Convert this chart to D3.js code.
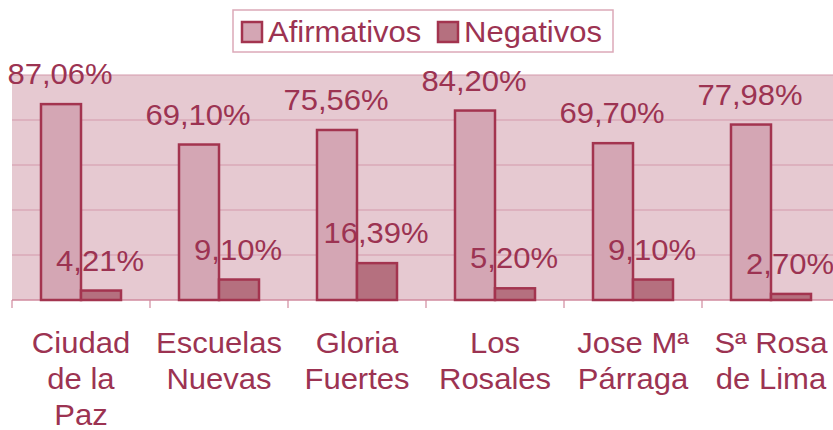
<!DOCTYPE html>
<meta charset="utf-8">
<style>
body { margin: 0; background: #fff; }
text { font-family: "Liberation Sans", Arial, sans-serif; fill: #9c3352; }
</style>
<body>
<script src="https://cdn.jsdelivr.net/npm/d3@7"></script>
<script>
var centros = ["Ciudad de la Paz", "Escuelas Nuevas", "Gloria Fuertes", "Los Rosales", "Jose Mª Párraga", "Sª Rosa de Lima"];
var etiquetas = [["Ciudad", "de la", "Paz"], ["Escuelas", "Nuevas"], ["Gloria", "Fuertes"], ["Los", "Rosales"], ["Jose Mª", "Párraga"], ["Sª Rosa", "de Lima"]];
var afirmativos = [87.06, 69.10, 75.56, 84.20, 69.70, 77.98];
var negativos = [4.21, 9.10, 16.39, 5.20, 9.10, 2.70];
var series = ["Afirmativos", "Negativos"];
var rejilla = [0, 20, 40, 60, 80, 100];

var colores = { Afirmativos: "#d4a6b4", Negativos: "#b5707f" };
var trazo = "#a3344f";
var estirar = 1.07; // el texto original esta algo ensanchado

var W = 833, H = 430;
var margin = {top: 75, left: 12},
    width = 828, height = 225;

var svg = d3.select("body").append("svg")
    .attr("width", W)
    .attr("height", H);

var g = svg.append("g")
    .attr("transform", "translate(" + margin.left + "," + margin.top + ")");

var x = d3.scaleBand().domain(centros).range([0, width]);
var xs = d3.scaleBand().domain(series).range([29, x.bandwidth() - 29]);
var y = d3.scaleLinear().domain([0, 100]).range([height, 0]);

function pos(px, py) {
  return "translate(" + px + "," + py + ") scale(" + estirar + ",1)";
}

// fondo del area de trazado
g.append("rect")
    .attr("width", width)
    .attr("height", height)
    .attr("fill", "#e6c9d1");

g.selectAll(".grid")
    .data(rejilla.slice(1))
  .enter().append("line")
    .attr("x1", 0).attr("x2", width)
    .attr("y1", function(d) { return y(d); })
    .attr("y2", function(d) { return y(d); })
    .attr("stroke", "#d49aab")
    .attr("stroke-width", 1.2);

// eje x con marcas entre grupos
g.append("line")
    .attr("x1", 0).attr("x2", width)
    .attr("y1", height).attr("y2", height)
    .attr("stroke", "#d08a9e")
    .attr("stroke-width", 1.5);

g.selectAll(".tick")
    .data(centros)
  .enter().append("line")
    .attr("x1", function(d) { return x(d); })
    .attr("x2", function(d) { return x(d); })
    .attr("y1", height).attr("y2", height + 8)
    .attr("stroke", "#d08a9e")
    .attr("stroke-width", 1.2);

var datos = centros.map(function(c, i) {
  return [{c: c, s: "Afirmativos", v: afirmativos[i]}, {c: c, s: "Negativos", v: negativos[i]}];
});

var grupo = g.selectAll(".grupo")
    .data(datos)
  .enter().append("g")
    .attr("transform", function(d) { return "translate(" + x(d[0].c) + ",0)"; });

grupo.selectAll("rect")
    .data(function(d) { return d; })
  .enter().append("rect")
    .attr("x", function(d) { return xs(d.s); })
    .attr("width", xs.bandwidth())
    .attr("y", function(d) { return y(d.v); })
    .attr("height", function(d) { return height - y(d.v); })
    .attr("fill", function(d) { return colores[d.s]; })
    .attr("stroke", trazo)
    .attr("stroke-width", 2.5);

grupo.selectAll("text")
    .data(function(d) { return d; })
  .enter().append("text")
    .attr("transform", function(d) { return pos(xs(d.s) + xs.bandwidth() / 2 - 1, y(d.v) - 20); })
    .attr("text-anchor", "middle")
    .style("font-size", "29px")
    .text(function(d) { return d3.format(".2f")(d.v).replace(".", ",") + "%"; });

// etiquetas de categorias
var cat = g.selectAll(".cat")
    .data(centros)
  .enter().append("text")
    .attr("text-anchor", "middle")
    .attr("transform", function(d) { return pos(x(d) + x.bandwidth() / 2, height + 53); })
    .style("font-size", "29px");

cat.selectAll("tspan")
    .data(function(d, i) { return etiquetas[i]; })
  .enter().append("tspan")
    .attr("x", 0)
    .attr("dy", function(d, i) { return i === 0 ? 0 : 36; })
    .text(function(d) { return d; });

// leyenda
svg.append("rect")
    .attr("x", 233).attr("y", 10)
    .attr("width", 380).attr("height", 42)
    .attr("fill", "#fff")
    .attr("stroke", "#dca9b8")
    .attr("stroke-width", 1.5);

var legend = svg.selectAll(".legend")
    .data(series)
  .enter().append("g")
    .attr("transform", function(d, i) { return "translate(" + (i === 0 ? 242 : 438) + ",22)"; });

legend.append("rect")
    .attr("width", 20)
    .attr("height", 20)
    .attr("fill", function(d) { return colores[d]; })
    .attr("stroke", trazo)
    .attr("stroke-width", 2.5);

legend.append("text")
    .attr("transform", pos(26, 20))
    .style("font-size", "29px")
    .text(function(d) { return d; });
</script>
</body>
</html>
